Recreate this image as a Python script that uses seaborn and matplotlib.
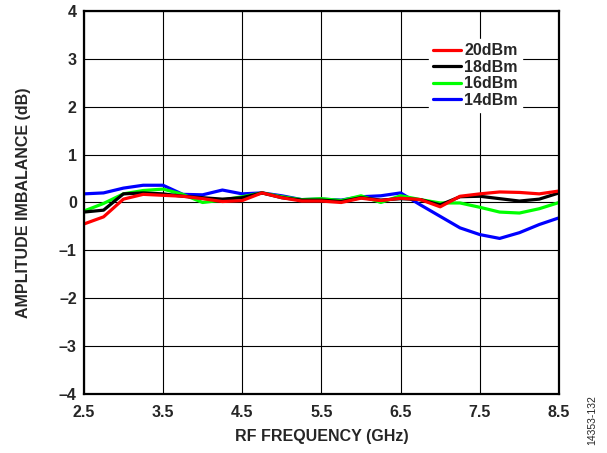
import numpy as np
import pandas as pd
import matplotlib
matplotlib.use("Agg")
import matplotlib.pyplot as plt
import seaborn as sns

freq = [2.5, 2.75, 3.0, 3.25, 3.5, 3.75, 4.0, 4.25, 4.5, 4.75, 5.0, 5.25, 5.5,
        5.75, 6.0, 6.25, 6.5, 6.75, 7.0, 7.25, 7.5, 7.75, 8.0, 8.25, 8.5]
imb_20dbm = [-0.45, -0.30, 0.07, 0.17, 0.15, 0.13, 0.08, 0.02, 0.04, 0.20, 0.10, 0.03, 0.03,
             0.00, 0.09, 0.04, 0.09, 0.06, -0.09, 0.13, 0.18, 0.22, 0.21, 0.18, 0.24]
imb_18dbm = [-0.20, -0.16, 0.18, 0.20, 0.18, 0.13, 0.10, 0.07, 0.10, 0.20, 0.10, 0.05, 0.05,
             0.02, 0.10, 0.05, 0.08, 0.06, -0.05, 0.12, 0.13, 0.08, 0.03, 0.07, 0.20]
imb_16dbm = [-0.18, -0.02, 0.18, 0.25, 0.28, 0.17, 0.00, 0.05, 0.12, 0.20, 0.12, 0.06, 0.08,
             0.04, 0.14, 0.00, 0.14, 0.06, -0.01, -0.01, -0.10, -0.20, -0.22, -0.13, 0.00]
imb_14dbm = [0.18, 0.20, 0.30, 0.36, 0.36, 0.17, 0.16, 0.26, 0.18, 0.20, 0.14, 0.06, 0.07,
             0.05, 0.12, 0.14, 0.20, -0.05, -0.29, -0.53, -0.67, -0.75, -0.63, -0.46, -0.32]

series = ["20dBm", "18dBm", "16dBm", "14dBm"]
colors = {"20dBm": "#ff0000", "18dBm": "#000000", "16dBm": "#00ff00", "14dBm": "#0000ff"}
xticks = [2.5, 3.5, 4.5, 5.5, 6.5, 7.5, 8.5]
yticks = [-4, -3, -2, -1, 0, 1, 2, 3, 4]

df = pd.concat([
    pd.DataFrame({"freq": freq, "imb": v, "power": name})
    for name, v in zip(series, [imb_20dbm, imb_18dbm, imb_16dbm, imb_14dbm])
])

sns.set_style("white")
plt.rcParams["font.family"] = ["Liberation Sans", "DejaVu Sans"]
plt.rcParams["axes.unicode_minus"] = True

FS = 11.5
fig = plt.figure(figsize=(6.07, 4.53), dpi=100)
ax = fig.add_axes([0.138, 0.130, 0.783, 0.846])

# draw in reverse order so red is on top
for name in reversed(series):
    sns.lineplot(data=df[df["power"] == name], x="freq", y="imb", color=colors[name],
                 linewidth=2.3, ax=ax, label=name, legend=False)

ax.set_xlim(2.5, 8.5)
ax.set_ylim(-4, 4)
ax.set_xticks(xticks)
ax.set_yticks(yticks)
ax.set_xticklabels([f"{t:g}" for t in xticks], fontsize=FS, fontweight="bold")
ax.set_yticklabels([str(t).replace("-", "\u2013") for t in yticks], fontsize=FS, fontweight="bold")
ax.grid(True, color="black", linewidth=0.8)
for s in ax.spines.values():
    s.set_color("black")
    s.set_linewidth(1.6)
ax.tick_params(axis="both", length=0)
ax.tick_params(axis="x", pad=8)
ax.tick_params(axis="y", pad=5)
ax.set_xlabel("RF FREQUENCY (GHz)", fontsize=FS, fontweight="bold", labelpad=6)
ax.set_ylabel("AMPLITUDE IMBALANCE (dB)", fontsize=FS, fontweight="bold", labelpad=20)

handles, labels = ax.get_legend_handles_labels()
order = [labels.index(n) for n in series]
leg = ax.legend([handles[i] for i in order], [labels[i] for i in order],
                loc="upper left", bbox_to_anchor=(0.71, 0.947), frameon=True,
                fancybox=False, framealpha=1, edgecolor="white",
                prop={"weight": "bold", "size": FS}, handlelength=1.75,
                handletextpad=0.2, labelspacing=0.1, borderpad=0.25)

fig.text(0.976, 0.018, "14353-132", rotation=90, fontsize=7.5, ha="center", va="bottom")

fig.savefig("out.png", dpi=100)
